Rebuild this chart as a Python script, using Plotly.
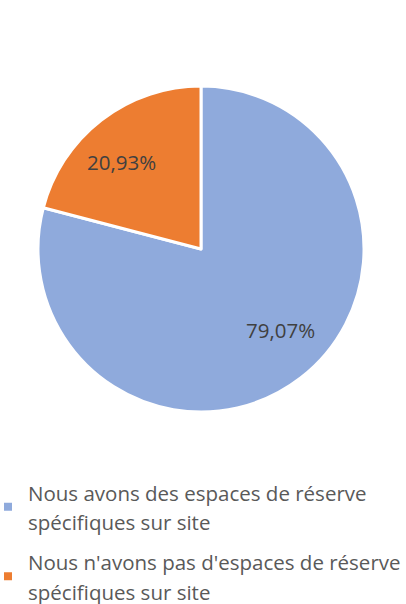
import math
import plotly.graph_objects as go

labels = ["Nous avons des espaces de réserve|spécifiques sur site",
          "Nous n'avons pas d'espaces de réserve|spécifiques sur site"]
values = [79.07, 20.93]
colors = ["#8FAADC", "#ED7D31"]

W, H = 406, 604
# pie box in page pixels
px0, px1, py0, py1 = 38, 364, 86, 412
cx, cy = (px0 + px1) / 2, (py0 + py1) / 2
R = (px1 - px0) / 2

fig = go.Figure(go.Pie(
    labels=labels, values=values, sort=False, direction="clockwise", rotation=0,
    marker=dict(colors=colors, line=dict(color="white", width=3)),
    textinfo="none", showlegend=False,
    domain=dict(x=[px0 / W, px1 / W], y=[1 - py1 / H, 1 - py0 / H]),
    hoverinfo="none",
))

# legend entries (wrapped text, square markers)
for i, (lab, col) in enumerate(zip(labels, colors)):
    name = "<br>".join(f'<span style="font-size:20.5px">{part}</span>' for part in lab.split("|"))
    fig.add_trace(go.Scatter(x=[None], y=[None], mode="markers", name=name,
                             marker=dict(symbol="square", size=8, color=col),
                             legendgroup=f"g{i}", showlegend=True, hoverinfo="none"))

# data labels at the slice mid-angles
total = sum(values)
start = 0.0
annotations = []
for v in values:
    mid = start + v / total * 360 / 2 - 6
    start += v / total * 360
    a = math.radians(mid)
    x = cx + 0.71 * R * math.sin(a)
    y = cy - 0.71 * R * math.cos(a) - 3
    annotations.append(dict(
        x=x / W, y=1 - y / H, xref="paper", yref="paper", showarrow=False,
        text=f"{v / total * 100:.2f}%".replace(".", ","),
        font=dict(family="Open Sans", size=20.5, color="#404040"),
        xanchor="center", yanchor="middle"))

fig.update_layout(
    width=W, height=H, margin=dict(l=0, r=0, t=0, b=0, autoexpand=False),
    paper_bgcolor="white", plot_bgcolor="white",
    xaxis=dict(visible=False), yaxis=dict(visible=False),
    annotations=annotations,
    showlegend=True,
    legend=dict(x=-12 / W, y=1 - 471 / H, xanchor="left", yanchor="top",
                font=dict(family="Open Sans", size=22.5, color="#595959"),
                itemwidth=30, tracegroupgap=8, bgcolor="rgba(0,0,0,0)"),
)
fig.write_html("out.html", config={"displayModeBar": False},
               post_script="document.body.style.margin='0px';")
